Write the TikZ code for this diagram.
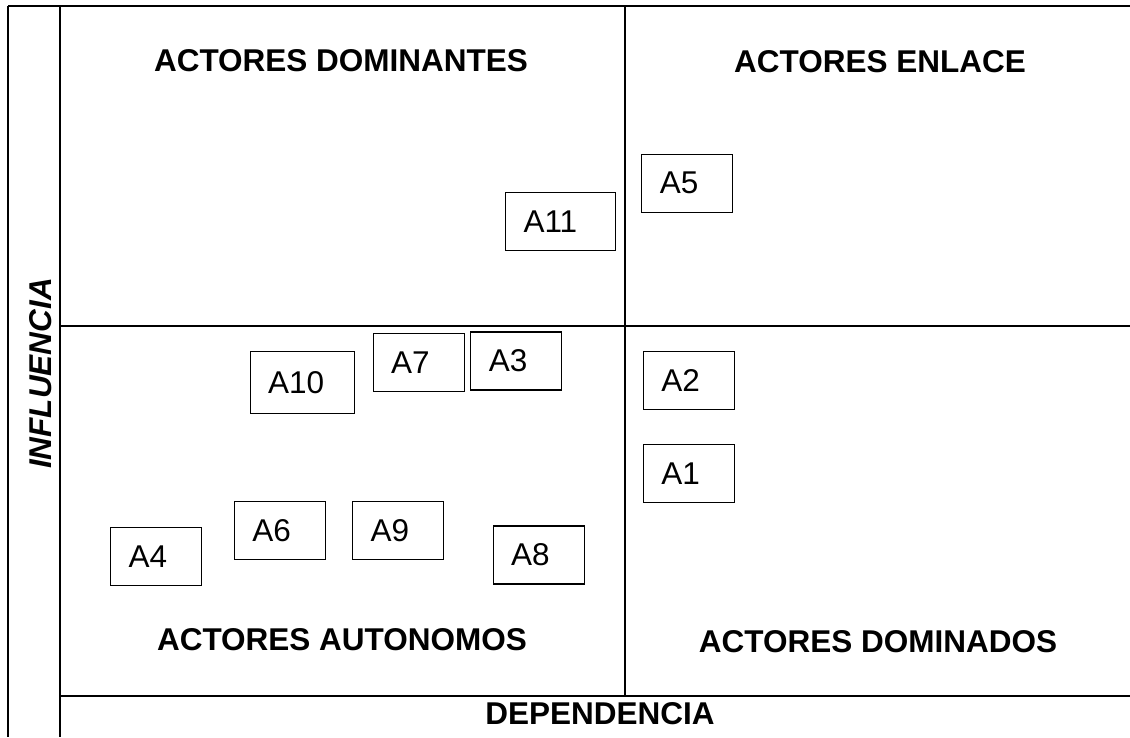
\documentclass[tikz,border=0pt]{standalone}
\usepackage{fontspec}
\setmainfont{Liberation Sans}
\begin{document}
\begin{tikzpicture}[x=1pt,y=-1pt]

        % Styles
        \tikzstyle{marco}=[line width=2pt]
        \tikzstyle{cuadrante}=[font=\fontsize{31.5}{36}\selectfont\bfseries]
        \tikzstyle{actor}=[draw,line width=1.1pt,inner xsep=18pt,align=left,minimum height=58pt,text width=55pt,font=\fontsize{31.5}{36}\selectfont]
        %The graphic
        \useasboundingbox (0,0) rectangle (1130,737);
        %grid lines
        \begin{scope}[style=marco]
            \draw (8,6) -- (1130,6);
            \draw (8,6) -- (8,737);
            \draw (60,6) -- (60,737);
            \draw (60,326) -- (1130,326);
            \draw (625,6) -- (625,696);
            \draw (60,696) -- (1130,696);
        \end{scope}
        %quadrant titles
        \node[cuadrante] (dominantes) at (341,61) {ACTORES DOMINANTES};
        \node[cuadrante] (enlace) at (880,62) {ACTORES ENLACE};
        \node[cuadrante] (autonomos) at (342,640) {ACTORES AUTONOMOS};
        \node[cuadrante] (dominados) at (878,642) {ACTORES DOMINADOS};
        \node[cuadrante] (dependencia) at (600,714) {DEPENDENCIA};
        \node[cuadrante,rotate=90] (influencia) at (40.5,373.5) {\itshape INFLUENCIA};
        %actors
        \node[actor,text width=74pt] (a11) at (560.5,221.3) {A11};
        \node[actor] (a5) at (687.4,183.3) {A5};
        \node[actor,text width=68pt,minimum height=62pt] (a10) at (302.2,382.7) {A10};
        \node[actor] (a7) at (418.7,362.5) {A7};
        \node[actor] (a3) at (516.3,361) {A3};
        \node[actor] (a2) at (688.8,380.2) {A2};
        \node[actor] (a1) at (688.8,473.8) {A1};
        \node[actor] (a4) at (156.2,556.5) {A4};
        \node[actor] (a6) at (279.8,530.8) {A6};
        \node[actor] (a9) at (398,530.8) {A9};
        \node[actor] (a8) at (538.7,555) {A8};
\end{tikzpicture}
\end{document}
